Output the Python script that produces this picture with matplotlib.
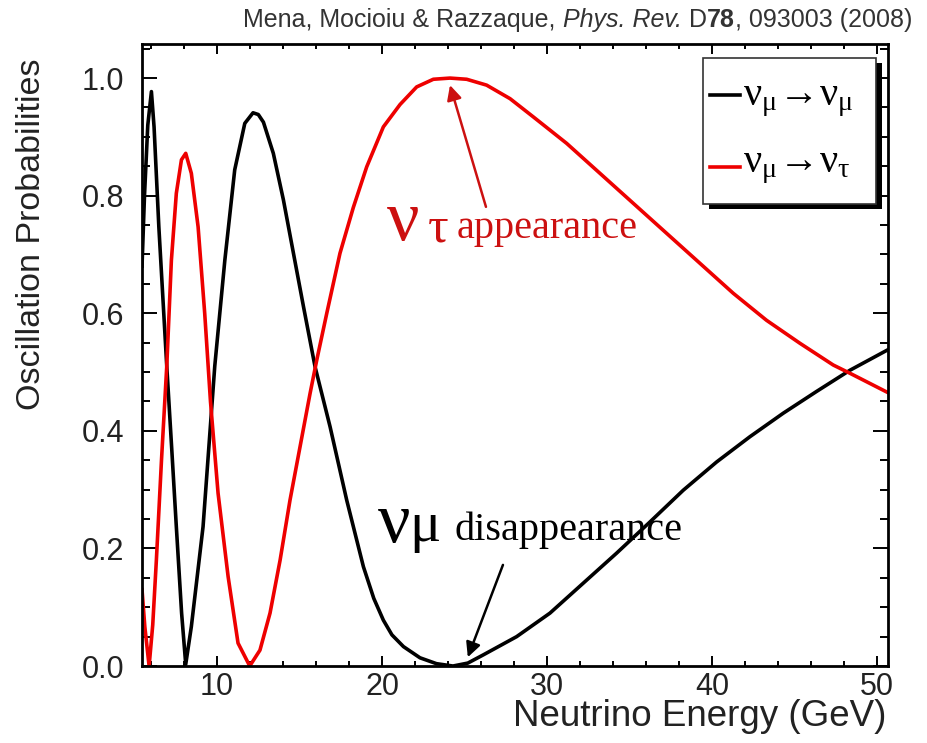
import matplotlib.pyplot as plt
from matplotlib.patches import Rectangle
from matplotlib.lines import Line2D
from matplotlib.ticker import MultipleLocator

# ==============================
# Data
# ==============================

# nu_mu -> nu_mu survival
e_mumu = [5.45, 5.6, 5.8, 6.02, 6.18, 6.47, 6.95, 7.25, 7.53, 7.85, 8.1,
          8.44, 9.15, 9.86, 10.47, 11.07, 11.68, 12.18, 12.5, 12.81, 13.41, 14.02,
          14.63, 15.24, 15.94, 16.85, 17.86, 18.87, 19.5, 20.08, 20.6, 21.3, 22.3, 23.3,
          24.3, 25.2, 26.14, 28.16, 30.18, 32.2, 34.22, 36.24, 38.26, 40.28,
          42.3, 44.32, 46.34, 48.36, 50.67]
p_mumu = [0.68, 0.80, 0.92, 0.977, 0.917, 0.747, 0.51, 0.37, 0.237, 0.09, 0.003,
          0.067, 0.237, 0.51, 0.69, 0.844, 0.923, 0.941, 0.938, 0.925, 0.872, 0.793,
          0.702, 0.611, 0.509, 0.407, 0.282, 0.169, 0.115, 0.078, 0.053, 0.033, 0.014, 0.004,
          0.0, 0.005, 0.019, 0.05, 0.09, 0.141, 0.192, 0.245, 0.299, 0.347,
          0.39, 0.43, 0.467, 0.503, 0.538]

# nu_mu -> nu_tau appearance
e_mutau = [5.45, 5.62, 5.88, 6.1, 6.32, 6.63, 6.95, 7.23, 7.53, 7.84, 8.1,
           8.44, 8.85, 9.25, 9.6, 10.06, 10.67, 11.27, 11.98, 12.6, 13.21,
           13.82, 14.42, 15.03, 15.64, 16.04, 16.65, 17.45, 18.26, 19.07, 20.08,
           21.09, 22.1, 23.11, 24.12, 25.13, 26.34, 27.76, 29.17, 31.19, 33.21,
           35.23, 37.25, 39.27, 41.29, 43.31, 45.33, 47.35, 48.36, 50.67]
p_mutau = [0.13, 0.067, 0.0, 0.07, 0.18, 0.35, 0.51, 0.69, 0.804, 0.861, 0.872,
           0.838, 0.747, 0.60, 0.45, 0.294, 0.152, 0.039, 0.0, 0.027, 0.09,
           0.18, 0.282, 0.373, 0.464, 0.52, 0.60, 0.702, 0.78, 0.849, 0.917,
           0.955, 0.985, 0.998, 1.0, 0.998, 0.988, 0.965, 0.934, 0.889, 0.838,
           0.787, 0.736, 0.685, 0.634, 0.588, 0.549, 0.512, 0.498, 0.465]

# citation pieces: (text, style, weight)
cite_parts = [("Mena, Mocioiu & Razzaque, ", "normal", "normal"),
              ("Phys. Rev.", "italic", "normal"),
              (" D", "normal", "normal"),
              ("78", "normal", "bold"),
              (", 093003 (2008)", "normal", "normal")]

# ==============================
# Styling
# ==============================

plt.rcParams.update({
    "font.family": ["Liberation Sans", "DejaVu Sans"],
    "mathtext.fontset": "custom",
    "mathtext.rm": "Liberation Serif",
    "mathtext.it": "Liberation Serif",
    "mathtext.bf": "Liberation Serif:bold",
    "mathtext.fallback": "stix",
})

RED_LINE = "#ee0000"
RED_TEXT = "#cc1010"
TXT = "#222222"
SERIF = ["Liberation Serif", "DejaVu Serif"]

fig = plt.figure(figsize=(9.27, 7.43), dpi=100)
ax = fig.add_axes([0.1532, 0.1036, 0.8047, 0.8372])

ax.plot(e_mumu, p_mumu, color="black", lw=2.6, solid_joinstyle="round")
ax.plot(e_mutau, p_mutau, color=RED_LINE, lw=2.6, solid_joinstyle="round")

ax.set_xlim(5.45, 50.67)
ax.set_ylim(0, 1.058)

ax.xaxis.set_major_locator(MultipleLocator(10))
ax.xaxis.set_minor_locator(MultipleLocator(2))
ax.yaxis.set_major_locator(MultipleLocator(0.2))
ax.yaxis.set_minor_locator(MultipleLocator(0.05))
ax.yaxis.set_major_formatter(plt.FuncFormatter(lambda v, _: f"{v:.1f}"))

ax.tick_params(axis="both", which="both", direction="in", top=True, right=True,
               colors="black", labelcolor=TXT, labelsize=22, width=1.4)
ax.tick_params(axis="x", which="major", length=7, pad=4)
ax.tick_params(axis="x", which="minor", length=3.5)
ax.tick_params(axis="y", which="major", length=11, pad=13)
ax.tick_params(axis="y", which="minor", length=5.5)
for s in ax.spines.values():
    s.set_linewidth(2.0)

# ==============================
# Legend (ROOT style box with shadow)
# ==============================

x0, x1, y0, y1 = 0.752, 0.984, 0.743, 0.977
ax.add_patch(Rectangle((x0 + 0.008, y0 - 0.008), x1 - x0, y1 - y0,
                       transform=ax.transAxes, facecolor="black",
                       edgecolor="none", zorder=5))
ax.add_patch(Rectangle((x0, y0), x1 - x0, y1 - y0, transform=ax.transAxes,
                       facecolor="white", edgecolor="#333333", lw=1.2, zorder=6))
ax.add_line(Line2D([0.762, 0.801], [0.918, 0.918], transform=ax.transAxes,
                   color="black", lw=2.6, zorder=7))
ax.add_line(Line2D([0.762, 0.801], [0.803, 0.803], transform=ax.transAxes,
                   color=RED_LINE, lw=2.6, zorder=7))
ax.text(0.805, 0.902, r"$\nu_{\mu}\!\rightarrow\!\nu_{\mu}$", transform=ax.transAxes,
        fontsize=29, va="baseline", ha="left", zorder=7)
ax.text(0.805, 0.794, r"$\nu_{\mu}\!\rightarrow\!\nu_{\tau}$", transform=ax.transAxes,
        fontsize=29, va="baseline", ha="left", zorder=7)

# ==============================
# Annotations
# ==============================

ax.text(20.3, 0.7245, "ν", family=SERIF, fontsize=52, color=RED_TEXT, va="baseline")
ax.text(22.75, 0.722, "τ", family=SERIF, fontsize=37, color=RED_TEXT, va="baseline")
ax.text(24.55, 0.728, "appearance", family=SERIF, fontsize=29, color=RED_TEXT,
        va="baseline")
ax.annotate("", xy=(24.12, 0.988), xytext=(26.3, 0.781),
            arrowprops=dict(arrowstyle="-|>", color=RED_TEXT, lw=1.8,
                            mutation_scale=22, shrinkA=0, shrinkB=0))

ax.text(19.76, 0.211, "ν", family=SERIF, fontsize=52, color="black", va="baseline")
ax.text(21.65, 0.212, "μ", family=SERIF, fontsize=42, color="black", va="baseline")
ax.text(24.4, 0.214, "disappearance", family=SERIF, fontsize=29, color="black",
        va="baseline")
ax.annotate("", xy=(25.2, 0.015), xytext=(27.33, 0.172),
            arrowprops=dict(arrowstyle="-|>", color="black", lw=1.8,
                            mutation_scale=22, shrinkA=0, shrinkB=0))

# ==============================
# Axis titles and citation
# ==============================

fig.text(886 / 927, 1 - 717 / 743, "Neutrino Energy (GeV)", fontsize=26.5,
         color=TXT, ha="right", va="center")
fig.text(32 / 927, 1 - 58 / 743, "Oscillation Probabilities", fontsize=24.5,
         color=TXT, rotation=90, ha="center", va="top")

# chain the citation pieces right to left, each one left of the next
anchor = fig.text(912 / 927, 1 - 20 / 743, cite_parts[-1][0], fontsize=18,
                  color="#333333", ha="right", va="center")
for txt, style, weight in reversed(cite_parts[:-1]):
    anchor = fig.add_artist(plt.Annotation(
        txt, xy=(0, 0), xycoords=anchor, ha="right", va="bottom",
        fontsize=18, color="#333333", style=style, weight=weight))

fig.savefig("out.png", dpi=100)
